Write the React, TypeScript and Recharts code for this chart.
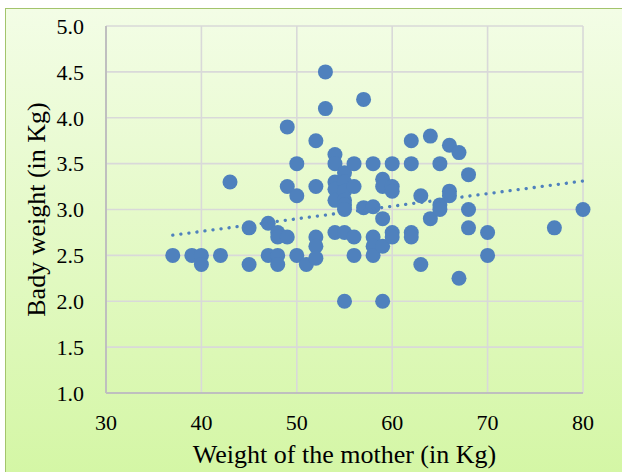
import { ScatterChart, Scatter, XAxis, YAxis, CartesianGrid, Label } from 'recharts';

// weight of the mother (kg) and baby weight (kg)
const motherWeight = [
  37, 39, 40, 40, 42, 43, 45, 45, 47, 47, 48, 48, 48, 48, 49, 49, 49, 50, 50, 50,
  51, 52, 52, 52, 52, 52, 53, 53, 54, 54, 54, 54, 54, 54, 55, 55, 55, 55, 55, 55,
  55, 55, 56, 56, 56, 56, 57, 57, 58, 58, 58, 58, 58, 59, 59, 59, 59, 59, 60, 60,
  60, 60, 60, 62, 62, 62, 62, 63, 63, 64, 64, 65, 65, 65, 66, 66, 66, 67, 67, 68,
  68, 68, 70, 70, 77, 80,
];
const babyWeight = [
  2.5, 2.5, 2.5, 2.4, 2.5, 3.3, 2.8, 2.4, 2.85, 2.5, 2.75, 2.7, 2.5, 2.4, 2.7, 3.9, 3.25, 3.5, 3.15, 2.5,
  2.4, 3.75, 3.25, 2.7, 2.6, 2.47, 4.5, 4.1, 3.6, 3.5, 3.3, 3.22, 3.1, 2.75, 3.4, 3.3, 3.2, 3.1, 3.05, 3.0,
  2.75, 2.0, 3.5, 3.25, 2.7, 2.5, 4.2, 3.02, 3.5, 3.03, 2.7, 2.6, 2.5, 3.33, 3.25, 2.9, 2.6, 2.0, 3.5, 3.25,
  3.2, 2.75, 2.7, 3.75, 3.5, 2.75, 2.7, 3.15, 2.4, 3.8, 2.9, 3.5, 3.05, 3.0, 3.7, 3.2, 3.15, 3.62, 2.25, 3.38,
  3.0, 2.8, 2.75, 2.5, 2.8, 3.0,
];

// linear trendline ends
const trendX = [37, 80];
const trendY = [2.72, 3.31];

const xTicks = [30, 40, 50, 60, 70, 80];
const yTicks = [1.0, 1.5, 2.0, 2.5, 3.0, 3.5, 4.0, 4.5, 5.0];

const points = motherWeight.map((x, i) => ({ x, y: babyWeight[i] }));
const trend = trendX.map((x, i) => ({ x, y: trendY[i] }));

const font = '"Liberation Serif", "Times New Roman", serif';
const blue = '#4f81bd';

const Dot = (props: any) => <circle cx={props.cx} cy={props.cy} r={7.5} fill={blue} />;

export default function App() {
  return (
    <div style={{ position: 'absolute', left: 0, top: 0, width: 622, height: 472, overflow: 'hidden', background: '#fff' }}>
      <div
        style={{
          position: 'absolute',
          left: 5,
          top: 8,
          width: 640,
          height: 480,
          border: '1px solid #a3c46c',
          background: 'linear-gradient(to bottom, #f3fde6, #d3f6a3)',
        }}
      />
      <div style={{ position: 'absolute', left: 5, top: 8 }}>
        <ScatterChart width={617} height={464} margin={{ top: 18, right: 39, left: 0, bottom: 0 }}>
          <CartesianGrid stroke="#d9d9d9" strokeWidth={1.6} />
          <XAxis
            type="number"
            dataKey="x"
            domain={[30, 80]}
            ticks={xTicks}
            height={79}
            tickSize={0}
            tickMargin={21}
            stroke="#bfbfbf"
            strokeWidth={2}
            tick={{ fill: '#000', fontSize: 22, fontFamily: font }}
          >
            <Label
              value="Weight of the mother (in Kg)"
              position="insideBottom"
              offset={9}
              style={{ fill: '#000', fontSize: 26, fontFamily: font }}
            />
          </XAxis>
          <YAxis
            type="number"
            dataKey="y"
            domain={[1, 5]}
            ticks={yTicks}
            width={101}
            tickSize={0}
            tickMargin={22}
            stroke="#bfbfbf"
            strokeWidth={2}
            tickFormatter={(v: number) => v.toFixed(1)}
            tick={{ fill: '#000', fontSize: 22, fontFamily: font }}
          >
            <Label
              content={({ viewBox }: any) => {
                const cx = viewBox.x + 31;
                const cy = viewBox.y + viewBox.height / 2;
                return (
                  <text
                    x={cx}
                    y={cy}
                    transform={`rotate(-90 ${cx} ${cy})`}
                    textAnchor="middle"
                    dominantBaseline="central"
                    style={{ fill: '#000', fontSize: 26, fontFamily: font }}
                  >
                    Bady weight (in Kg)
                  </text>
                );
              }}
            />
          </YAxis>
          <Scatter data={points} fill={blue} shape={Dot} isAnimationActive={false} />
          <Scatter
            data={trend}
            line={{ stroke: blue, strokeWidth: 3.3, strokeDasharray: '0.1 8', strokeLinecap: 'round' }}
            shape={() => <g />}
            isAnimationActive={false}
          />
        </ScatterChart>
      </div>
    </div>
  );
}
